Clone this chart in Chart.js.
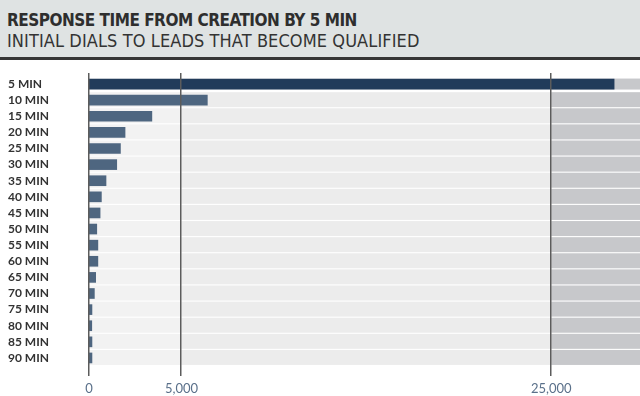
<!DOCTYPE html>
<html>
<head>
<meta charset="utf-8">
<script src="https://cdn.jsdelivr.net/npm/chart.js@4.4.1/dist/chart.umd.min.js"></script>
<style>
  html, body { margin: 0; padding: 0; background: #fff; }
  body { width: 640px; height: 396px; overflow: hidden; }
  .head {
    height: 57px;
    background: #dfe3e3;
    border-bottom: 3px solid #363636;
    padding-left: 7px;
    box-sizing: content-box;
    color: #2e2e2e;
    font-family: "DejaVu Sans Condensed", "Liberation Sans Narrow", "Open Sans", sans-serif;
  }
  .head .t { font-size: 17px; font-weight: bold; letter-spacing: -0.5px; padding-top: 10px; line-height: 20px; }
  .head .s { font-size: 18px; letter-spacing: 0.1px; line-height: 22px; color: #333; }
  .wrap { position: relative; width: 640px; height: 336px; }
</style>
</head>
<body>
<div class="head">
  <div class="t">RESPONSE TIME FROM CREATION BY 5 MIN</div>
  <div class="s">INITIAL DIALS TO LEADS THAT BECOME QUALIFIED</div>
</div>
<div class="wrap"><canvas id="chart"></canvas></div>
<script>
const minutes = ['5 MIN', '10 MIN', '15 MIN', '20 MIN', '25 MIN', '30 MIN', '35 MIN', '40 MIN', '45 MIN',
  '50 MIN', '55 MIN', '60 MIN', '65 MIN', '70 MIN', '75 MIN', '80 MIN', '85 MIN', '90 MIN'];
const dials = [28400, 6400, 3400, 1950, 1700, 1500, 920, 670, 600,
  420, 480, 480, 360, 290, 160, 150, 160, 160];
const xTicks = [0, 5000, 25000];

// background zones and stripes behind the bars
const backdrop = {
  id: 'backdrop',
  beforeDatasetsDraw(chart) {
    const { ctx, chartArea: a, scales: { x, y } } = chart;
    const x5 = x.getPixelForValue(5000);
    const x25 = x.getPixelForValue(25000);
    ctx.save();
    minutes.forEach((m, i) => {
      const cy = y.getPixelForValue(i);
      const top = i === 0 ? cy - 5.5 : cy - 8;
      const h = i === 0 ? 11 : 15;
      ctx.fillStyle = '#f2f2f2';
      ctx.fillRect(a.left, top, x5 - a.left, h);
      ctx.fillStyle = '#ececec';
      ctx.fillRect(x5, top, x25 - x5, h);
      ctx.fillStyle = '#c7c8cb';
      ctx.fillRect(x25, top, a.right - x25, h);
    });
    ctx.restore();
  },
  afterDatasetsDraw(chart) {
    const { ctx, chartArea: a, scales: { x } } = chart;
    ctx.save();
    ctx.strokeStyle = '#5c5c5c';
    ctx.lineWidth = 1.5;
    xTicks.forEach(v => {
      const px = Math.round(x.getPixelForValue(v)) - 0.25;
      ctx.beginPath();
      ctx.moveTo(px, a.top - 3);
      ctx.lineTo(px, a.bottom + 10);
      ctx.stroke();
    });
    ctx.restore();
  }
};

new Chart(document.getElementById('chart'), {
  type: 'bar',
  data: {
    labels: minutes,
    datasets: [{
      data: dials,
      backgroundColor: dials.map((v, i) => i === 0 ? '#213b5a' : '#4e6680'),
      barThickness: 10,
      borderWidth: 0
    }]
  },
  options: {
    indexAxis: 'y',
    responsive: true,
    maintainAspectRatio: false,
    animation: false,
    layout: { padding: { left: 8, right: 0, top: 16, bottom: 0 } },
    plugins: {
      legend: { display: false },
      tooltip: { enabled: false }
    },
    scales: {
      x: {
        min: 0,
        max: 29800,
        grid: { display: false, drawTicks: false },
        border: { display: false },
        afterBuildTicks: s => { s.ticks = xTicks.map(v => ({ value: v })); },
        afterFit: s => { s.height = 30; },
        ticks: {
          padding: 15,
          color: '#5a708a',
          font: { family: 'Lato, sans-serif', size: 13 },
          maxRotation: 0,
          callback: v => v.toLocaleString('en-US')
        }
      },
      y: {
        grid: { display: false, drawTicks: false },
        border: { display: false },
        afterFit: s => { s.width = 81; },
        ticks: {
          crossAlign: 'far',
          color: '#333',
          font: { family: 'Lato, sans-serif', size: 12, weight: 'bold' },
          autoSkip: false
        }
      }
    }
  },
  plugins: [backdrop]
});
</script>
</body>
</html>
